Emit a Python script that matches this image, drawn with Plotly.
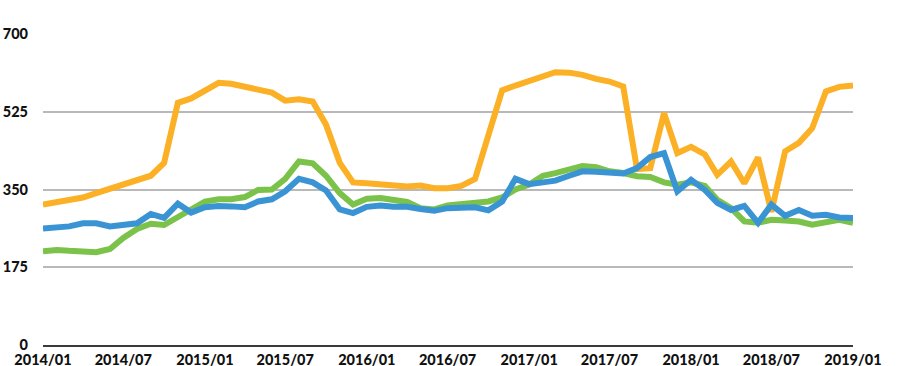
import plotly.graph_objects as go
import pandas as pd

months = pd.date_range("2014-01-01", "2019-01-01", freq="MS").strftime("%Y-%m-%d").tolist()

orange = [316, 321, 327, 332, 342, 351, 361, 372, 381, 410,
          545, 555, 571, 590, 588, 581, 577, 568, 550, 553,
          548, 496, 410, 366, 364, 362, 357, 357, 359, 353,
          353, 358, 374, 477, 573, 584, 595, 606, 614, 613,
          608, 599, 593, 582, 396, 398, 522, 432, 446, 429,
          383, 413, 364, 422, 300, 436, 455, 488, 571, 581,
          584]

green = [211, 214, 212, 210, 209, 216, 241, 261, 273, 270,
         287, 305, 323, 328, 328, 333, 349, 350, 374, 413,
         409, 381, 342, 316, 329, 331, 327, 322, 308, 305,
         314, 318, 321, 323, 332, 350, 361, 381, 387, 394,
         403, 400, 391, 387, 380, 378, 366, 361, 366, 358,
         327, 308, 278, 275, 282, 280, 278, 271, 276, 282,
         275]

blue = [262, 264, 267, 274, 274, 267, 271, 274, 295, 286,
        318, 298, 310, 313, 312, 310, 323, 328, 346, 374,
        366, 348, 305, 297, 311, 314, 311, 311, 306, 302,
        308, 308, 310, 303, 323, 374, 362, 366, 370, 381,
        391, 390, 389, 386, 398, 423, 432, 346, 372, 349,
        320, 304, 313, 275, 316, 291, 304, 291, 293, 287,
        286]

tick_vals = ["2014-01-01", "2014-07-01", "2015-01-01", "2015-07-01", "2016-01-01",
             "2016-07-01", "2017-01-01", "2017-07-01", "2018-01-01", "2018-07-01",
             "2019-01-01"]
tick_text = ["2014/01", "2014/07", "2015/01", "2015/07", "2016/01",
             "2016/07", "2017/01", "2017/07", "2018/01", "2018/07", "2019/01"]
y_ticks = [0, 175, 350, 525, 700]

fig = go.Figure()
fig.add_trace(go.Scatter(x=months, y=green, mode="lines",
                         line=dict(color="#7BC24A", width=6), showlegend=False))
fig.add_trace(go.Scatter(x=months, y=orange, mode="lines",
                         line=dict(color="#FBB026", width=6), showlegend=False))
fig.add_trace(go.Scatter(x=months, y=blue, mode="lines",
                         line=dict(color="#3A94D4", width=6), showlegend=False))

font = dict(family="Lato", size=14.5, color="#111111", weight=900)

fig.update_layout(
    width=899, height=366,
    margin=dict(l=43, r=46, t=34, b=21, autoexpand=False),
    paper_bgcolor="white", plot_bgcolor="white",
    font=font,
    xaxis=dict(
        type="date", automargin=False,
        range=["2014-01-01", "2019-01-01"],
        tickvals=tick_vals, ticktext=tick_text,
        showgrid=False, zeroline=False,
        showline=True, linecolor="#3a3a3a", linewidth=2,
        ticks="", tickfont=font, ticklabelstandoff=1,
    ),
    yaxis=dict(
        range=[0, 700], tickvals=y_ticks, automargin=False,
        showgrid=True, gridcolor="#b9b9b9", gridwidth=2,
        zeroline=False, showline=False, ticks="",
        tickfont=font, ticklabelstandoff=14,
    ),
)

# remove the default page margin so the figure sits at the window's corner
fig.write_html(
    "out.html",
    config={"displayModeBar": False},
    post_script="document.body.style.margin='0';document.body.style.overflow='hidden';",
)
